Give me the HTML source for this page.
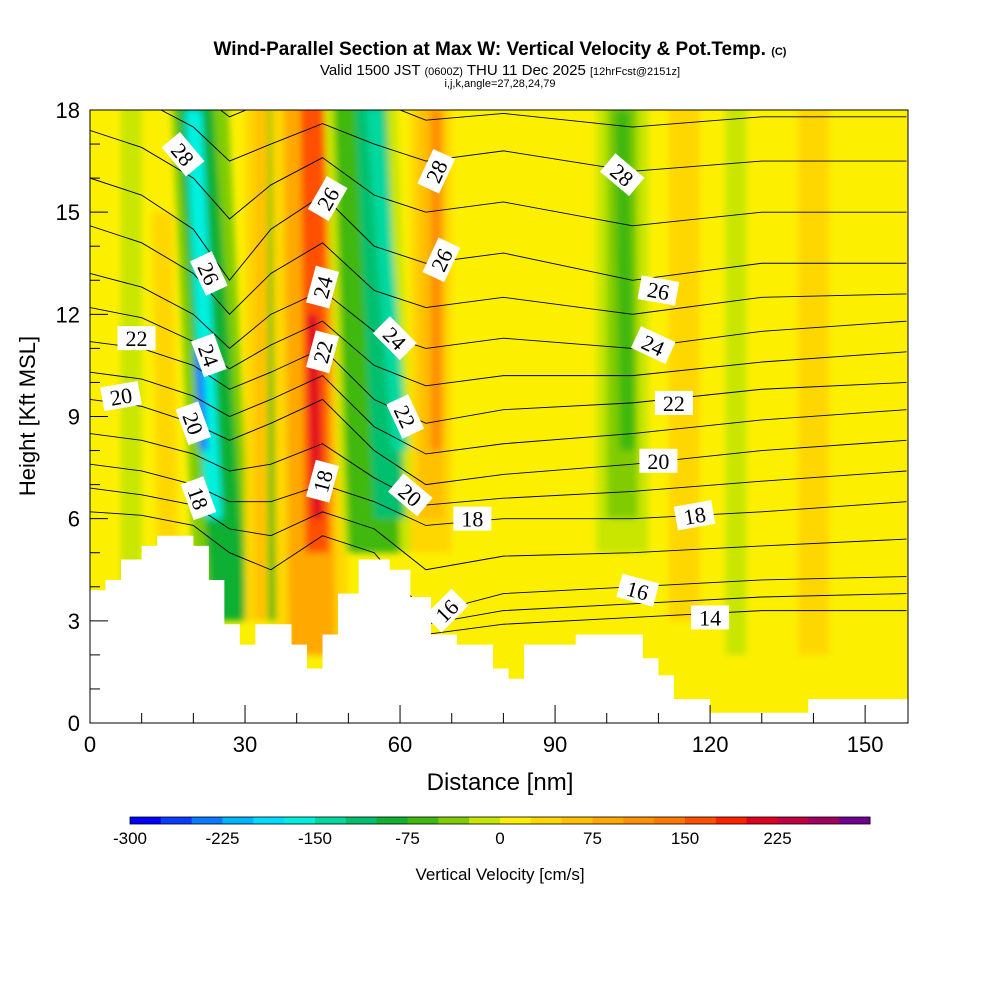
<!DOCTYPE html>
<html><head><meta charset="utf-8"><style>
body{margin:0;background:#fff;width:1000px;height:1000px;overflow:hidden}
svg{font-family:"Liberation Sans",sans-serif}
</style></head><body>
<svg id="c" width="1000" height="1000">
<text x="500" y="55" text-anchor="middle" font-size="19" font-weight="bold">Wind-Parallel Section at Max W: Vertical Velocity &amp; Pot.Temp. <tspan font-size="11">(C)</tspan></text>
<text x="500" y="75" text-anchor="middle" font-size="15">Valid 1500 JST <tspan font-size="11">(0600Z)</tspan> THU 11 Dec 2025 <tspan font-size="11">[12hrFcst@2151z]</tspan></text>
<text x="500" y="87" text-anchor="middle" font-size="11">i,j,k,angle=27,28,24,79</text>
<defs><clipPath id="pc"><rect x="90" y="110" width="818" height="613"/></clipPath>
<filter id="bl" x="-20%" y="-5%" width="140%" height="110%"><feGaussianBlur stdDeviation="3.5"/></filter></defs>
<g id="plot" clip-path="url(#pc)"></g>
<g id="axes"></g>
<g id="cbar"></g>
<text x="500" y="790" text-anchor="middle" font-size="24">Distance [nm]</text>
<text transform="translate(35,416) rotate(-90)" text-anchor="middle" font-size="22">Height [Kft MSL]</text>
<text x="500" y="880" text-anchor="middle" font-size="17">Vertical Velocity [cm/s]</text>
</svg>
<script>
// ---- data ----
const xTicks=[0,30,60,90,120,150];
const yTicks=[0,3,6,9,12,15,18];
const cbTicks=[-300,-225,-150,-75,0,75,150,225];
const cbColors=["#0000ff","#0a3cff","#0a78ff","#00b4ff","#00dcff","#00f0e0","#00d9a0","#00c070","#10b030","#40b810","#80cc00","#c8e600","#ffee00","#ffd700","#ffc000","#ffa800","#ff9000","#ff7800","#ff5000","#ff2000","#e00020","#c00040","#a00060","#700090"];
// bands: bottom x, top x, bottom h, top h, half width (nm), value (cm/s)
const bandX0=[8,15,26,27,24,22,33,36,33,43,43,44,44,56,55,58,60,66,66,67,103,103,104,115,140,125];
const bandX1=[8,14,21,20,20,21,33,36,33,42,42,43,43,52,52,54,55,66,66,67,103,103,103,115,140,125];
const bandH0=[4,5,3,3,6,8,3,3,3,2,2,5,6,5,5,6,8,5,6,8,5,6,8,3,2,2];
const bandH1=[18,14,18,18,17,10,18,18,18,18,18,18,11,18,18,18,17,18,18,17,18,18,17,18,18,18];
const bandW=[2,2,5.5,3.5,1.6,0.8,3,1.5,1,7,4.5,2.3,1,7,5,3,1.5,4,2.5,1.2,5,3,1.5,3,3,2];
const bandVal=[-25,40,-30,-90,-165,-240,40,-60,60,40,90,150,210,-20,-60,-110,-150,30,70,120,-10,-40,-70,30,30,-10];
// terrain step breakpoints
const terX=[0,3,6,10,13,20,23,26,29,32,39,42,45,48,52,58,62,66,71,78,81,84,94,107,110,113,120,139,158];
const terH=[3.9,4.2,4.8,5.2,5.5,5.2,4.2,2.9,2.3,2.9,2.3,1.6,2.6,3.8,4.8,4.5,3.7,2.6,2.3,1.6,1.3,2.3,2.6,1.9,1.4,0.7,0.3,0.7,0.7];
// theta contours: x positions and heights per level
const cX=[0,10,20,27,35,45,55,65,80,105,130,158];
const lv30=[21,20.5,19.5,19,19.5,20,19.5,19,19,18.8,19,19];
const lv29=[20,19.5,18.6,17.8,18.3,18.9,18.3,17.7,17.9,17.5,17.8,17.8];
const lv28=[18.8,18.3,17.5,16.5,17,17.6,17,16.5,16.8,16.2,16.5,16.5];
const lv27=[17.4,16.9,16,14.8,15.8,16.6,15.5,15,15.3,14.6,15,15];
const lv26=[16,15.5,14.5,13,14.5,15.5,14,13.5,13.8,13,13.5,13.5];
const lv25=[14.6,14.1,13.2,12,13.2,14.1,12.7,12.2,12.5,12,12.5,12.6];
const lv24=[13.2,12.8,12,11,12,12.7,11.5,11,11.3,11,11.5,11.8];
const lv23=[12.2,11.9,11.2,10.4,11.1,11.8,10.5,9.9,10.2,10.2,10.6,10.9];
const lv22=[11.2,11,10.5,9.8,10.3,11,9.5,8.8,9.2,9.4,9.8,10];
const lv21=[10.3,10.1,9.6,9,9.5,10.2,8.7,7.9,8.2,8.5,8.9,9.2];
const lv20=[9.5,9.3,8.8,8.3,8.8,9.5,8,7,7.3,7.6,8,8.3];
const lv19=[8.5,8.3,7.9,7.4,7.6,8.2,7.2,6.4,6.6,6.8,7.1,7.4];
const lv18=[7.6,7.4,7,6.5,6.5,7,6.5,5.8,6,6,6.2,6.5];
const lv17=[6.9,6.7,6.4,5.7,5.5,6.2,5.7,4.5,4.9,5,5.2,5.4];
const lv16=[6.2,6.1,5.8,5,4.5,5.5,5,3.2,3.8,4,4.2,4.3];
const lv15=[null,null,null,null,null,null,null,2.9,3.3,3.5,3.7,3.8];
const lv14=[null,null,null,null,null,null,null,2.6,2.9,3.1,3.3,3.3];
const levels=[30,29,28,27,26,25,24,23,22,21,20,19,18,17,16,15,14];
const lvArr=[lv30,lv29,lv28,lv27,lv26,lv25,lv24,lv23,lv22,lv21,lv20,lv19,lv18,lv17,lv16,lv15,lv14];
// labels: level, x(nm), h(kft), angle
const lblV=[28,26,24,20,18,22,20,26,24,22,18,28,26,24,22,20,18,16,28,26,24,22,20,18,16,14];
const lblX=[18,23,23,20,21,9,6,46,45,45,45,67,68,59,61,62,74,69,103,110,109,113,110,117,106,120];
const lblH=[16.7,13.2,10.8,8.8,6.6,11.3,9.6,15.4,12.8,10.9,7.1,16.2,13.6,11.3,9,6.7,6,3.3,16.1,12.7,11.1,9.4,7.7,6.1,3.9,3.1];
const lblA=[50,65,70,70,70,0,-10,-60,-75,-75,-75,-65,-65,45,65,40,0,-45,40,10,25,0,0,-10,15,0];
// ---- axes ----
const X=v=>90+v*(818/158.3), Y=h=>723-h*(613/18), CB=v=>130+(v+300)*(740/600);
const NS="http://www.w3.org/2000/svg";
function mk(t,a,p){const e=document.createElementNS(NS,t);for(const k in a)e.setAttribute(k,a[k]);p.appendChild(e);return e;}
const plot=document.getElementById('plot'),axes=document.getElementById('axes'),cb=document.getElementById('cbar');
function col(v){let i=Math.floor((v+300)/25);i=Math.max(0,Math.min(23,i));return cbColors[i];}
const bg=mk('rect',{x:90,y:110,width:818,height:613,fill:"#fcf000"},plot);


const bandG=mk('g',{filter:'url(#bl)'},plot);
bandX0.forEach((x0,i)=>{
 const x1=bandX1[i],w=bandW[i];
 const pts=[[X(x0-w),Y(bandH0[i])],[X(x0+w),Y(bandH0[i])],[X(x1+w),Y(bandH1[i]+1)],[X(x1-w),Y(bandH1[i]+1)]].map(p=>p.join(',')).join(' ');
 const p=mk('polygon',{points:pts,fill:col(bandVal[i])},bandG);
 
 
});
lvArr.forEach((arr,k)=>{
 let d='';arr.forEach((h,j)=>{if(h==null)return;d+=(d?'L':'M')+X(cX[j])+','+Y(h);});
 const p=mk('path',{d:d,fill:'none',stroke:'#000','stroke-width':0.9},plot);
 
 
});
let td='M'+X(terX[0])+','+Y(0);
terX.forEach((x,i)=>{const xn=i+1<terX.length?terX[i+1]:160;td+='L'+X(x)+','+Y(terH[i])+'L'+X(xn)+','+Y(terH[i]);});
td+='L'+X(160)+','+Y(0)+'Z';
const ter=mk('path',{d:td,fill:'#fff'},plot);


lblV.forEach((v,i)=>{
 const g=mk('g',{transform:`translate(${X(lblX[i])},${Y(lblH[i])}) rotate(${lblA[i]})`},plot);
 
 
 mk('rect',{x:-19,y:-12,width:38,height:24,fill:'#fff'},g);
 const t=mk('text',{x:0,y:8,'text-anchor':'middle','font-size':22,'font-family':'Liberation Serif, serif'},g);t.textContent=v;
});
const fr=mk('rect',{x:90,y:110,width:818,height:613,fill:'none',stroke:'#000','stroke-width':1},axes);


for(let v=0;v<=150;v+=10){const l=mk('line',{x1:X(v),x2:X(v),y1:723,y2:v%30?713:705,stroke:'#000'},axes);}
for(let h=0;h<=18;h++){const l=mk('line',{x1:90,x2:h%3?100:108,y1:Y(h),y2:Y(h),stroke:'#000'},axes);}
xTicks.forEach(v=>{const t=mk('text',{x:X(v),y:752,'text-anchor':'middle','font-size':22},axes);t.textContent=v;});
yTicks.forEach(h=>{const t=mk('text',{x:80,y:Y(h)+8,'text-anchor':'end','font-size':22},axes);t.textContent=h;});
cbColors.forEach((c,i)=>{const r=mk('rect',{x:CB(-300+i*25),y:817,width:CB(-275)-CB(-300)+0.5,height:7,fill:c},cb);});
const cbf=mk('rect',{x:130,y:817,width:740,height:7,fill:'none',stroke:'#000','stroke-width':0.8},cb);


cbTicks.forEach(v=>{const t=mk('text',{x:CB(v),y:844,'text-anchor':'middle','font-size':17},cb);t.textContent=v;});
</script>
</body></html>
